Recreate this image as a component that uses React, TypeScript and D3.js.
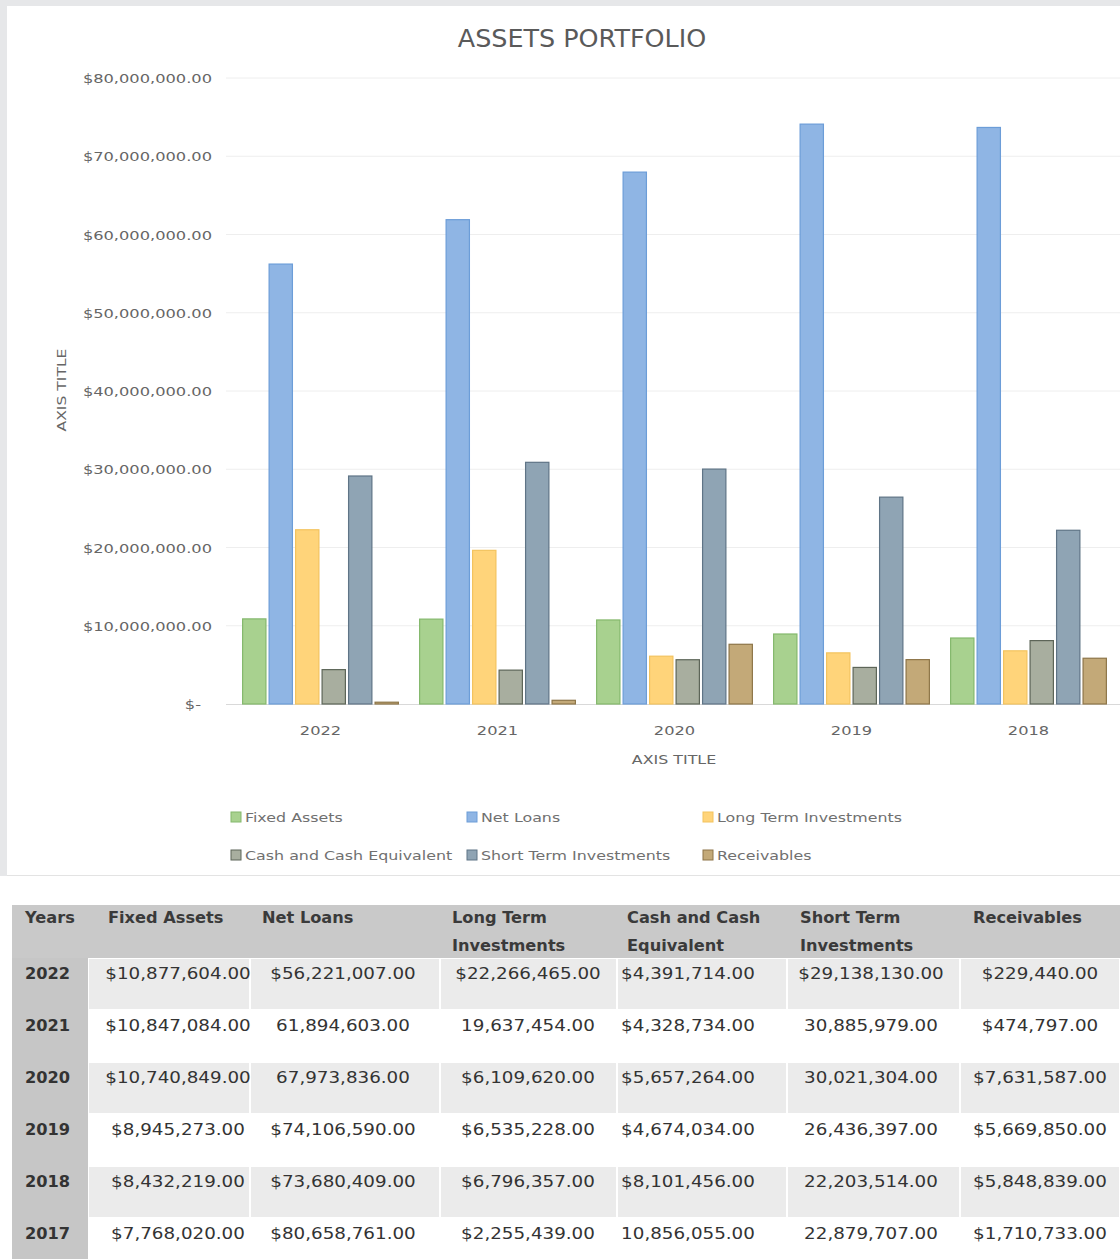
import React from "react";
import * as d3 from "d3";

const years = ["2022", "2021", "2020", "2019", "2018", "2017"];
const chartYears = ["2022", "2021", "2020", "2019", "2018"];
const fixedAssets = [10877604, 10847084, 10740849, 8945273, 8432219, 7768020];
const netLoans = [56221007, 61894603, 67973836, 74106590, 73680409, 80658761];
const longTermInvestments = [22266465, 19637454, 6109620, 6535228, 6796357, 2255439];
const cashEquivalents = [4391714, 4328734, 5657264, 4674034, 8101456, 10856055];
const shortTermInvestments = [29138130, 30885979, 30021304, 26436397, 22203514, 22879707];
const receivables = [229440, 474797, 7631587, 5669850, 5848839, 1710733];

const seriesNames = [
  "Fixed Assets",
  "Net Loans",
  "Long Term Investments",
  "Cash and Cash Equivalent",
  "Short Term Investments",
  "Receivables",
];
const seriesValues = [fixedAssets, netLoans, longTermInvestments, cashEquivalents, shortTermInvestments, receivables];
const seriesFill = ["#a8d18f", "#8fb5e4", "#ffd47a", "#a8ae9f", "#8fa4b4", "#c3a978"];
const seriesStroke = ["#84b86c", "#6c9dd8", "#f3c35e", "#5d6558", "#5f7486", "#8d7548"];

const yTicks = [0, 10000000, 20000000, 30000000, 40000000, 50000000, 60000000, 70000000, 80000000];
const yTickLabels = [
  "$-",
  "$10,000,000.00",
  "$20,000,000.00",
  "$30,000,000.00",
  "$40,000,000.00",
  "$50,000,000.00",
  "$60,000,000.00",
  "$70,000,000.00",
  "$80,000,000.00",
];

const tableHeaders = [
  ["Years"],
  ["Fixed Assets"],
  ["Net Loans"],
  ["Long Term", "Investments"],
  ["Cash and Cash", "Equivalent"],
  ["Short Term", "Investments"],
  ["Receivables"],
];
// cells printed without a dollar sign: "seriesIndex-year"
const plainCells = ["1-2021", "1-2020", "2-2021", "3-2017", "4-2021", "4-2020", "4-2019", "4-2018", "4-2017"];

const FONT = "'DejaVu Sans', sans-serif";

function T(props: any) {
  const { x, y, sx = 1, size = 13, anchor = "start", fill = "#595959", weight = "normal", rotate = 0, children } = props;
  return (
    <text
      transform={`translate(${x},${y}) rotate(${rotate}) scale(${sx},1)`}
      fontFamily={FONT}
      fontSize={size}
      fontWeight={weight}
      textAnchor={anchor}
      fill={fill}
    >
      {children}
    </text>
  );
}

export default function App() {
  const W = 1120;
  const H = 1259;
  const plotLeft = 232;
  const plotRight = 1117;
  const y = d3.scaleLinear().domain([0, 80000000]).range([704, 78]);
  const x0 = d3.scaleBand().domain(chartYears).range([plotLeft, plotRight]).paddingInner(0.12).paddingOuter(0.06);
  const x1 = d3
    .scaleBand()
    .domain(seriesNames)
    .range([0, x0.bandwidth()])
    .paddingInner(0.12);
  const fmt = d3.format(",.2f");

  const legendCols = [231, 467, 703];
  const legendRows = [812, 850];

  const colBounds = [12, 88, 250, 440, 617, 787, 960, 1120];
  const headerX = [25, 108, 262, 452, 627, 800, 973];
  const dataCenters = [178, 343, 528, 688, 871, 1040];
  const tableTop = 905;
  const headerH = 53;
  const rowH = 52;

  return (
    <div style={{ position: "absolute", left: 0, top: 0 }}>
      <svg width={W} height={H} style={{ display: "block" }}>
        <rect x={0} y={0} width={W} height={H} fill="#ffffff" />
        <rect x={0} y={0} width={W} height={876} fill="#e6e7e9" />
        <rect x={7} y={6} width={W - 7} height={869} fill="#ffffff" />
        <line x1={7} x2={W} y1={875.5} y2={875.5} stroke="#e3e3e3" />

        {/* title */}
        <T x={582} y={47} size={24} sx={1.06} anchor="middle" fill="#5a5a5a">
          ASSETS PORTFOLIO
        </T>

        {/* gridlines + y ticks */}
        {yTicks.map((t, i) => (
          <g key={t}>
            {t > 0 && (
              <line x1={226} x2={W} y1={y(t)} y2={y(t)} stroke="#eeeeee" strokeWidth={1} />
            )}
            <T x={t === 0 ? 201 : 212} y={y(t) + 5} size={13} sx={1.25} anchor="end" fill="#666666">
              {yTickLabels[i]}
            </T>
          </g>
        ))}
        <line x1={226} x2={W} y1={y(0) + 0.5} y2={y(0) + 0.5} stroke="#d9d9d9" />

        {/* bars */}
        {chartYears.map((yr) => {
          const yi = years.indexOf(yr);
          return (
            <g key={yr} transform={`translate(${x0(yr)},0)`}>
              {seriesNames.map((s, si) => {
                const v = seriesValues[si][yi];
                const top = y(v);
                return (
                  <rect
                    key={s}
                    x={x1(s)}
                    y={top}
                    width={x1.bandwidth()}
                    height={Math.max(y(0) - top, 0)}
                    fill={seriesFill[si]}
                    stroke={seriesStroke[si]}
                    strokeWidth={1.2}
                  />
                );
              })}
            </g>
          );
        })}

        {/* x labels */}
        {chartYears.map((yr) => (
          <T key={yr} x={(x0(yr) as number) + x0.bandwidth() / 2} y={735} size={13} sx={1.25} anchor="middle" fill="#666666">
            {yr}
          </T>
        ))}
        <T x={674} y={764} size={13} sx={1.22} anchor="middle" fill="#666666">
          AXIS TITLE
        </T>
        <T x={66} y={390} size={13} sx={1.2} anchor="middle" rotate={-90} fill="#666666">
          AXIS TITLE
        </T>

        {/* legend */}
        {seriesNames.map((s, si) => {
          const lx = legendCols[si % 3];
          const ly = legendRows[Math.floor(si / 3)];
          return (
            <g key={s}>
              <rect x={lx} y={ly} width={10} height={10} fill={seriesFill[si]} stroke={seriesStroke[si]} />
              <T x={lx + 14} y={ly + 10} size={13} sx={1.22} fill="#707070">
                {s}
              </T>
            </g>
          );
        })}

        {/* table */}
        <rect x={12} y={tableTop} width={W - 12} height={headerH} fill="#c9c9c9" />
        {tableHeaders.map((h, i) =>
          h.map((line, li) => (
            <T key={i + "-" + li} x={headerX[i]} y={tableTop + 18 + li * 28} size={15} sx={1.08} weight="bold" fill="#3a3a3a">
              {line}
            </T>
          ))
        )}
        {years.map((yr, ri) => {
          const top = tableTop + headerH + ri * rowH;
          const shaded = ri % 2 === 0;
          return (
            <g key={yr}>
              <rect x={12} y={top} width={colBounds[1] - 12} height={rowH + (ri === years.length - 1 ? 10 : 0)} fill="#c6c6c6" />
              {shaded &&
                colBounds.slice(1, -1).map((cx, ci) => (
                  <rect
                    key={ci}
                    x={cx + 1}
                    y={top + 1}
                    width={colBounds[ci + 2] - cx - 2}
                    height={rowH - 2}
                    fill="#ebebeb"
                  />
                ))}
              <T x={25} y={top + 21} size={15} sx={1.08} weight="bold" fill="#333333">
                {yr}
              </T>
              {seriesValues.map((vals, si) => {
                const plain = plainCells.includes(si + "-" + yr);
                return (
                  <T key={si} x={dataCenters[si]} y={top + 21} size={15} sx={1.22} anchor="middle" fill="#333333">
                    {(plain ? "" : "$") + fmt(vals[ri])}
                  </T>
                );
              })}
            </g>
          );
        })}
      </svg>
    </div>
  );
}
